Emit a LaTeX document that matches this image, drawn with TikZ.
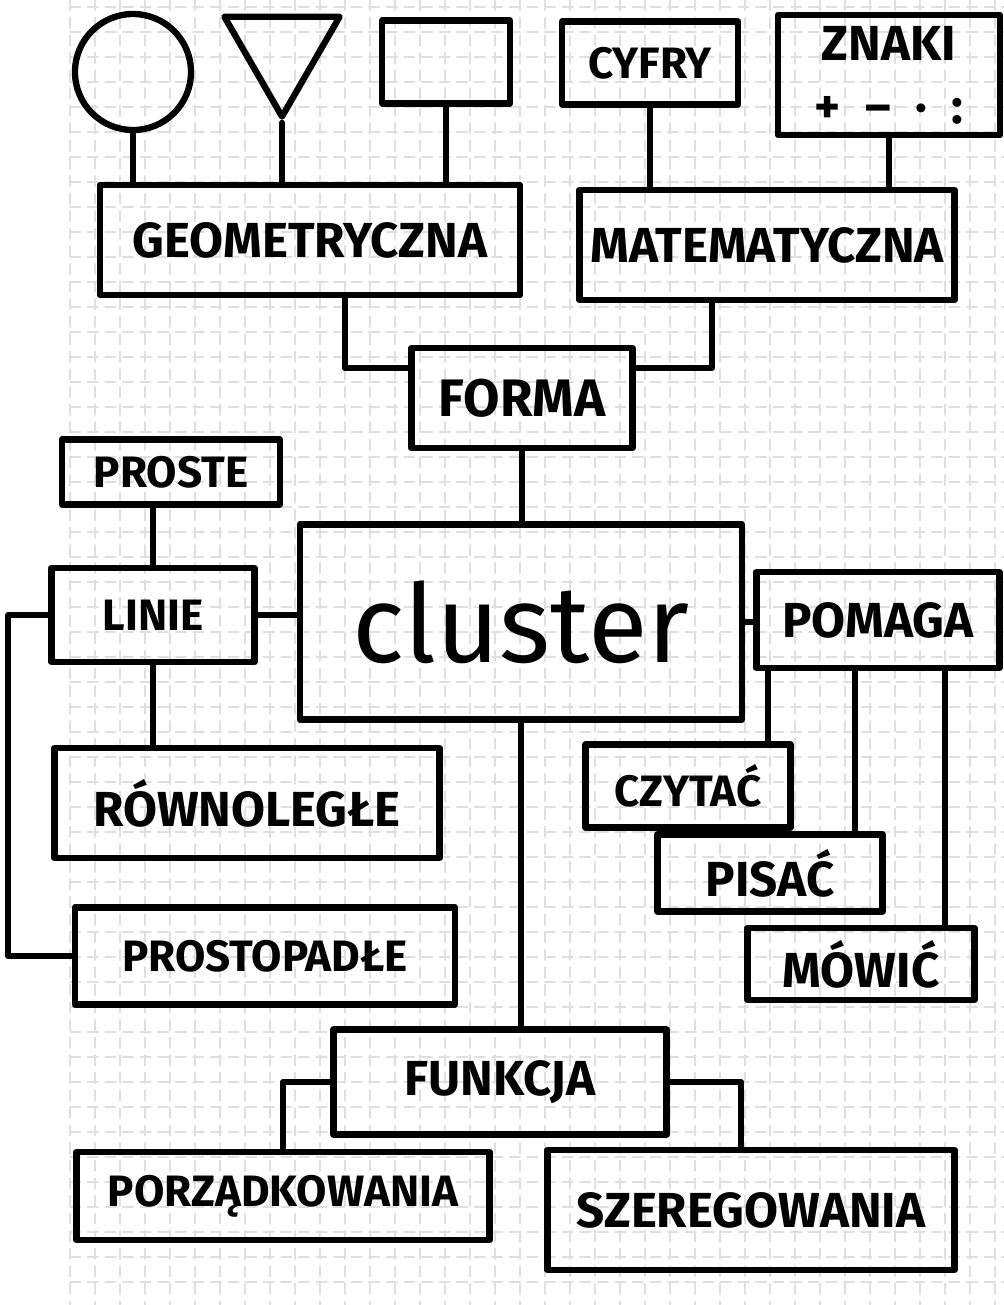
\documentclass[tikz,border=0pt]{standalone}
\usepackage{fontspec}
\setmainfont{Fira Sans}
\usetikzlibrary{positioning,shapes.geometric}

\begin{document}
\begin{tikzpicture}[x=0.01cm, y=-0.01cm, line width=1.8pt, line cap=round, line join=round]
  \tikzstyle{box}=[draw, inner sep=2pt, align=center, font=\fontsize{14}{18}\selectfont\bfseries]
  \tikzstyle{smallbox}=[box, font=\fontsize{12.5}{15}\selectfont\bfseries]
  \tikzstyle{gridline}=[gray!25, line width=0.4pt, densely dashed]
  \useasboundingbox (0,0) rectangle (1004,1305);
  \fill[white] (0,0) rectangle (1004,1305);
  % squared paper
  \foreach \gx in {70,95,...,995} \draw[gridline] (\gx,0) -- (\gx,1305);
  \foreach \gy in {7,32,...,1282} \draw[gridline] (70,\gy) -- (1004,\gy);

  % top row
  \node[draw, circle, minimum size=1.16cm, inner sep=0pt] (circ) at (133,72) {};
  \node[draw, regular polygon, regular polygon sides=3, shape border rotate=180, minimum size=1.33cm, inner sep=0pt] (tri) at (282,50) {};
  \node[box, minimum width=1.28cm, minimum height=0.83cm] (sq) at (446,62) {};
  \node[smallbox, minimum width=1.76cm, minimum height=0.83cm] (cyfry) at (650,63) {CYFRY};
  \node[box, minimum width=2.22cm, minimum height=1.2cm] (znaki) at (889,75) {ZNAKI\\+\enspace--\enspace·\enspace:};
  \node[box, minimum width=4.2cm, minimum height=1.1cm] (geo) at (310,240) {GEOMETRYCZNA};
  \node[box, minimum width=3.75cm, minimum height=1.1cm] (mat) at (767,245) {MATEMATYCZNA};
  \node[box, minimum width=2.21cm, minimum height=1cm, font=\fontsize{15}{18}\selectfont\bfseries] (forma) at (522,398) {FORMA};

  % middle
  \node[smallbox, minimum width=2.18cm, minimum height=0.65cm] (proste) at (171,472) {PROSTE};
  \node[smallbox, minimum width=2.03cm, minimum height=0.94cm] (linie) at (153,615) {LINIE};
  \node[box, minimum width=4.42cm, minimum height=1.95cm, font=\fontsize{31}{36}\selectfont] (cluster) at (521,622) {cluster};
  \node[box, minimum width=2.43cm, minimum height=0.96cm] (pomaga) at (878,620) {POMAGA};
  \node[box, minimum width=3.85cm, minimum height=1.1cm] (rown) at (247,803) {RÓWNOLEGŁE};
  \node[smallbox, minimum width=3.8cm, minimum height=0.97cm] (prost) at (265,956) {PROSTOPADŁE};
  \node[smallbox, minimum width=2.05cm, minimum height=0.83cm] (czytac) at (688,786) {CZYTAĆ};
  \node[box, minimum width=2.25cm, minimum height=0.77cm] (pisac) at (770,873) {PISAĆ};
  \node[box, minimum width=2.27cm, minimum height=0.72cm] (mowic) at (861,964) {MÓWIĆ};

  % bottom
  \node[box, minimum width=3.33cm, minimum height=1.05cm] (funkcja) at (500,1082) {FUNKCJA};
  \node[smallbox, minimum width=4.13cm, minimum height=0.88cm] (porz) at (283,1196) {PORZĄDKOWANIA};
  \node[box, minimum width=4.07cm, minimum height=1.2cm] (szer) at (751,1210) {SZEREGOWANIA};

  % connectors
  \draw (circ.south) -- (circ.south |- geo.north);
  \draw (tri.south) -- (tri.south |- geo.north);
  \draw (sq.south) -- (sq.south |- geo.north);
  \draw (cyfry.south) -- (cyfry.south |- mat.north);
  \draw (znaki.south) -- (znaki.south |- mat.north);
  \draw ([xshift=0.35cm]geo.south) |- ([yshift=0.3cm]forma.west);
  \draw ([xshift=-0.55cm]mat.south) |- ([yshift=0.3cm]forma.east);
  \draw (forma) -- (forma |- cluster.north);
  \draw (proste.south -| linie) -- (linie.north);
  \draw (linie.east) -- (linie.east -| cluster.west);
  \draw (cluster.east) -- (cluster.east -| pomaga.west);
  \draw (linie.south) -- (linie.south |- rown.north);
  \draw (linie.west) -- ++(-0.4cm,0) |- (prost.west);
  \draw ([xshift=-1.1cm]pomaga.south) -- ([xshift=-1.1cm]pomaga.south |- czytac.north);
  \draw ([xshift=-0.23cm]pomaga.south) -- ([xshift=-0.23cm]pomaga.south |- pisac.north);
  \draw ([xshift=0.67cm]pomaga.south) -- ([xshift=0.67cm]pomaga.south |- mowic.north);
  \draw (cluster.south) -- (cluster.south |- funkcja.north);
  \draw (funkcja.west) -| (porz.north);
  \draw (funkcja.east) -| ([xshift=-0.1cm]szer.north);
\end{tikzpicture}
\end{document}
